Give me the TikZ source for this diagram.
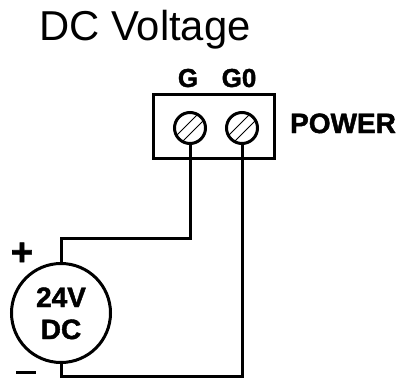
\documentclass[tikz,border=0pt]{standalone}
\usepackage{fontspec}
\setmainfont[BoldFeatures={FakeBold=1.6}]{Liberation Sans}
\usetikzlibrary{calc}
\tikzset{
 wire/.style={line width=3pt,line join=miter},
 screw/.style={circle,draw,line width=3pt,minimum size=31pt,inner sep=0pt,fill=white},
 slot/.style={line width=1pt},
 bold/.style={font=\bfseries\fontsize{#1}{#1}\selectfont,inner sep=0pt,anchor=base}
}
\begin{document}
\begin{tikzpicture}[x=1pt,y=-1pt]
\useasboundingbox (0,0) rectangle (398,383);
\node[font=\fontsize{41.8}{42}\selectfont,inner sep=0pt,anchor=base] (title) at (145,40) {DC Voltage};
\node[bold=26] (g) at (188,87) {G};
\node[bold=26] (g0) at (239,87) {G0};
\node[bold=28] (power) at (343,133) {POWER};
\node[draw,line width=3pt,minimum width=121pt,minimum height=64pt,inner sep=0pt] (box) at (213.5,126) {};
\node[screw] (s1) at (190,128) {};
\node[screw] (s2) at (242,128) {};
\foreach \s in {s1,s2}{
 \draw[slot] ($(\s)+(-13,7)$) -- ($(\s)+(7,-13)$);
 \draw[slot] ($(\s)+(-7,13)$) -- ($(\s)+(13,-7)$);
}
\node[circle,draw,line width=3pt,minimum size=99pt,inner sep=0pt] (dc) at (61,313) {};
\node[bold=28] (v) at (61,307) {24V};
\node[bold=28] (d) at (61,339) {DC};
\node[bold=38] (plus) at (22,265) {+};
\coordinate (m1) at (16,372);
\coordinate (m2) at (36,372);
\draw[line width=3pt] (m1) -- (m2);
\draw[wire] (s1.south) |- (100,238) -| (dc.north);
\draw[wire] (s2.south) |- (100,376) -| (dc.south);
\end{tikzpicture}
\end{document}
